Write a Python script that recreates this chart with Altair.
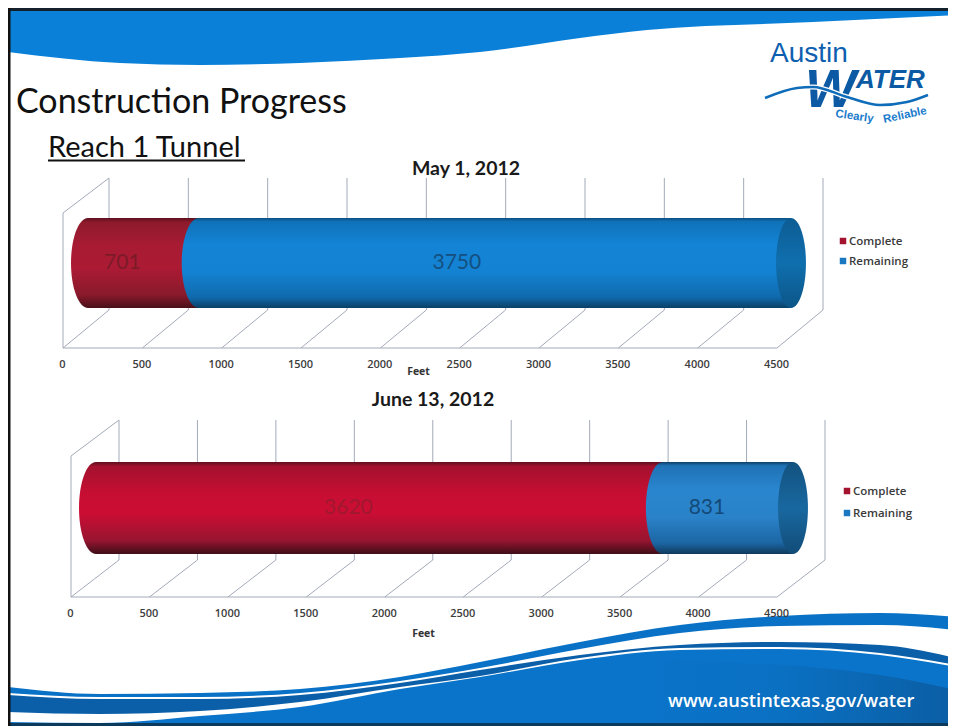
import altair as alt
import pandas as pd

# ---- chart values
periods = ["May 1, 2012", "June 13, 2012"]
series = ["Complete", "Remaining"]
complete = [701, 3620]
remaining = [3750, 831]
ticks = [0, 500, 1000, 1500, 2000, 2500, 3000, 3500, 4000, 4500]

# ---- slide artwork outlines (page pixels)
band_top_x = [8, 120, 200, 300, 400, 480, 580, 647, 813, 956]
band_top_y = [52, 63, 65, 63, 58, 52, 38, 30, 22, 15]
wave_x = [8, 100, 200, 300, 400, 480, 580, 680, 780, 880, 956]
wave1 = [687, 694, 693, 689, 677, 662, 642, 625, 616, 613, 617]
wave2 = [693, 697, 697, 693, 681, 668, 649, 633, 626, 625, 630]
wave3 = [695, 699, 699, 695, 683, 670, 655, 645, 642, 645, 658]
wave4 = [712, 714, 711, 702, 687, 676, 658, 648, 647, 653, 665]
wave5 = [722, 723, 716, 707, 689, 677, 660, 650, 649, 655, 667]
shade_x = [640, 720, 800, 880, 956]
shade_y = [655, 662, 666, 675, 690]
logo_x = [765, 797, 813, 847, 880, 907, 928]
logo_y = [98, 88, 87, 97, 105, 102, 95]

XMAX = 948
W, H = XMAX - 8, 718
BLUE = "#0a72c6"


def px(v):
    return v - 8


def feet(p0, p4500):
    s = (p4500 - p0) / 4500
    return alt.Scale(domain=[(8 - p0) / s, (XMAX - p0) / s], range=[0, W], nice=False, zero=False)


XPX = alt.Scale(domain=[8, XMAX], range=[0, W], nice=False, zero=False)
YPX = alt.Scale(domain=[8, 726], range=[0, H], nice=False, zero=False)
YROW = alt.Scale(type="point", domain=periods, range=[255, 500], padding=0)


def grad(stops, horizontal=False):
    return {
        "gradient": "linear", "x1": 0, "y1": 0, "x2": 1 if horizontal else 0, "y2": 0 if horizontal else 1,
        "stops": [{"offset": o, "color": c} for o, c in stops],
    }


def ellipse(r):
    k = 0.5523
    a, b = r * k, r
    return (f"M0,-1 C{a},-1 {b},{-k} {b},0 C{b},{k} {a},1 0,1 "
            f"C{-a},1 {-b},{k} {-b},0 C{-b},{-k} {-a},-1 0,-1 Z")


def text(s, x, y, size, color="#111", font="Lato", weight="normal", align="left", style="normal", angle=0):
    return alt.Chart().mark_text(
        text=s, font=font, fontSize=size, color=color, fontWeight=weight, align=align,
        baseline="alphabetic", fontStyle=style, angle=angle,
    ).encode(x=alt.value(px(x)), y=alt.value(px(y)))


def hrule(x0, x1, y, color, w):
    return alt.Chart().mark_rule(color=color, strokeWidth=w).encode(
        x=alt.value(px(x0)), x2=alt.value(px(x1)), y=alt.value(px(y)))


def vrule(x, y0, y1, color, w):
    return alt.Chart().mark_rule(color=color, strokeWidth=w).encode(
        x=alt.value(px(x)), y=alt.value(px(y0)), y2=alt.value(px(y1)))


def area(xs, ys, color, base=726):
    d = pd.DataFrame({"x": xs, "y": ys, "b": [base] * len(xs)})
    return alt.Chart(d).mark_area(color=color, interpolate="monotone", opacity=1).encode(
        x=alt.X("x:Q", scale=XPX, axis=None),
        y=alt.Y("y:Q", scale=YPX, axis=None),
        y2="b:Q",
    )


def line(xs, ys, color, w):
    return alt.Chart(pd.DataFrame({"x": xs, "y": ys})).mark_line(
        color=color, strokeWidth=w, interpolate="monotone").encode(
        x=alt.X("x:Q", scale=XPX, axis=None), y=alt.Y("y:Q", scale=YPX, axis=None))


def panel(i, front, floor_y, back_dx, back_floor_y, top_y, wall_y, bar, bar_h, caps, axis_y, feet_xy,
          legend, labels, title_xy):
    p = periods[i]
    xs_front = feet(*front)
    xs_bar = feet(*bar)
    per_px = 4500 / (front[1] - front[0])
    G = "#a3aab8"
    out = []

    tick_df = pd.DataFrame({"t": ticks, "b": [t + back_dx * per_px for t in ticks]})
    # floor diagonals, back wall verticals
    out.append(alt.Chart(tick_df).mark_rule(color=G, strokeWidth=1).encode(
        x=alt.X("t:Q", scale=xs_front, axis=None), x2="b:Q",
        y=alt.value(px(floor_y)), y2=alt.value(px(back_floor_y))))
    out.append(alt.Chart(tick_df).mark_rule(color=G, strokeWidth=1).encode(
        x=alt.X("b:Q", scale=xs_front, axis=None),
        y=alt.value(px(back_floor_y)), y2=alt.value(px(top_y))))
    # front floor line with the real axis labels and title
    out.append(alt.Chart(tick_df).mark_rule(opacity=0).encode(
        x=alt.X("t:Q", scale=xs_front, axis=alt.Axis(
            orient="bottom", offset=px(axis_y) - H, values=ticks, domain=False, ticks=False, grid=False,
            labelFont="Open Sans", labelFontSize=11, labelFontWeight=600, labelColor="#3c3c3c",
            labelPadding=10, labelFlush=False, labelOverlap=False, format="d", labelOffset=-1,
            title="Feet", titleFont="Open Sans", titleFontSize=10.5, titleFontWeight="bold", titleColor="#333",
            titleX=px(feet_xy[0]), titleY=feet_xy[1] - axis_y, titleAlign="center", titleBaseline="middle",
            zindex=1,
        ))))
    out.append(hrule(front[0], front[1], floor_y, G, 1))
    out.append(vrule(front[0], floor_y, wall_y, G, 1))
    wall = pd.DataFrame({"t": [0], "b": [back_dx * per_px]})
    out.append(alt.Chart(wall).mark_rule(color=G, strokeWidth=1).encode(
        x=alt.X("t:Q", scale=xs_front, axis=None), x2="b:Q",
        y=alt.value(px(wall_y)), y2=alt.value(px(top_y))))

    red, blue, cap = caps
    rows = pd.DataFrame({
        "period": [p, p],
        "series": series,
        "start": [0, complete[i]],
        "end": [complete[i], complete[i] + remaining[i]],
    })
    Y = alt.Y("period:N", scale=YROW, axis=None)
    X = alt.X("start:Q", scale=xs_bar, axis=None)
    rx = 17 / (bar_h / 2)
    big = bar_h ** 2
    r0 = rows[rows.series == "Complete"]
    r1 = rows[rows.series == "Remaining"]
    out.append(alt.Chart(r0).mark_point(shape=ellipse(rx), filled=True, color=grad(red), size=big, opacity=1, strokeWidth=0).encode(x=X, y=Y))
    out.append(alt.Chart(r0).mark_bar(color=grad(red), size=bar_h, orient="horizontal").encode(x=X, x2="end:Q", y=Y))
    out.append(alt.Chart(r1).mark_bar(color=grad(blue), size=bar_h, orient="horizontal").encode(x=X, x2="end:Q", y=Y))
    out.append(alt.Chart(r1).mark_point(shape=ellipse(rx), filled=True, color=grad(blue), size=big, opacity=1, strokeWidth=0).encode(x=X, y=Y))
    out.append(alt.Chart(r1).mark_point(shape=ellipse(rx * 0.88), filled=True, color=grad(cap), size=big, opacity=1, strokeWidth=0).encode(
        x=alt.X("end:Q", scale=xs_bar, axis=None), y=Y))

    # value labels
    rows["value"] = [complete[i], remaining[i]]
    for j, (dx, col) in enumerate(labels):
        row = rows.iloc[[j]].copy()
        row["mid"] = (row["start"] + row["end"]) / 2
        out.append(alt.Chart(row).mark_text(font="Lato", fontSize=21, color=col, dx=dx, baseline="middle", align="center").encode(
            x=alt.X("mid:Q", scale=xs_bar, axis=None), y=Y, text="value:Q"))

    # legend
    lx, ly0, ly1 = legend
    for (name, col, ly) in zip(series, ["#a3132f", "#1a78c2"], [ly0, ly1]):
        out.append(alt.Chart().mark_square(size=42, color=col, opacity=1, filled=True).encode(
            x=alt.value(px(lx)), y=alt.value(px(ly))))
        out.append(text(name, lx + 6, ly + 4, 11.5, "#3a3a3a", "Open Sans", 600))

    out.append(text(p, title_xy[0], title_xy[1], 19.5, "#1a1a1a", "Lato", "bold", "center"))
    return out


RED_A = [(0, "#5e1020"), (0.05, "#8e1a2c"), (0.3, "#a81b33"), (0.55, "#ac1a34"), (0.85, "#8a1a2c"), (1, "#4a1018")]
BLUE_A = [(0, "#0c4f80"), (0.04, "#0f72b8"), (0.3, "#1484d6"), (0.6, "#1482d2"), (0.88, "#0f6aac"), (1, "#0b4066")]
CAP_A = [(0, "#0d5c94"), (0.5, "#0f6fae"), (1, "#0c5688")]
RED_B = [(0, "#5e1020"), (0.05, "#a4112e"), (0.35, "#c70e32"), (0.55, "#cc0d34"), (0.85, "#981530"), (1, "#3e0e18")]
BLUE_B = [(0, "#0f3f66"), (0.04, "#1f72b4"), (0.3, "#2a86cf"), (0.6, "#2a82c8"), (0.88, "#1c66a4"), (1, "#0f3a5c")]
CAP_B = [(0, "#13527f"), (0.5, "#1868a0"), (1, "#124c78")]

layers = []
# slide artwork
layers.append(area(band_top_x, band_top_y, "#0a80d8", base=8))
layers.append(area(wave_x, wave1, BLUE))
layers.append(area(wave_x, wave2, "#ffffff"))
layers.append(area(wave_x, wave3, "#0b5fa8"))
layers.append(area(wave_x, wave4, "#ffffff"))
layers.append(area(wave_x, wave5, "#0a74ca"))
layers.append(area(shade_x, shade_y, grad([(0, "#0a74ca"), (0.45, "#0a70c2"), (1, "#0b5ea4")], horizontal=True)))
layers.append(hrule(8, XMAX, 9.5, "#14202c", 3))
layers.append(hrule(8, XMAX, 724.5, "#0c3a5c", 3))
layers.append(vrule(9, 8, 726, "#111111", 3))

layers.append(text("Construction Progress", 16, 113, 34))
layers.append(text("Reach 1 Tunnel", 48, 157, 29))
layers.append(hrule(48, 245, 160.5, "#111", 2))

# logo
layers.append(text("Austin", 770, 62, 28, "#0e5fb0", "Liberation Sans"))
layers.append(text("W", 805, 107, 54, "#0d5aa4", "Liberation Sans", "bold", style="italic"))
layers.append(text("ATER", 856, 88, 26, "#0d5aa4", "Liberation Sans", "bold", style="italic"))
layers.append(line(logo_x, logo_y, "#ffffff", 5))
layers.append(line(logo_x, logo_y, "#0f6cb8", 2.5))
layers.append(text("Clearly", 835, 117, 11.5, "#1a7ccc", "Liberation Sans", "bold", angle=8))
layers.append(text("Reliable", 884, 123, 11.5, "#1a7ccc", "Liberation Sans", "bold", angle=348))

layers.append(text("www.austintexas.gov/water", 668, 707, 18.3, "#ffffff", "Open Sans", 600))

layers += panel(0, (63, 777), 348, 46, 310, 178, 213, (88, 88 + 4500 * 703 / 4451), 90,
                (RED_A, BLUE_A, CAP_A), 348, (418, 371), (843, 241, 261),
                [(-21, "#7c1a28"), (-38, "#134f80")], (466, 175))
layers += panel(1, (71, 777), 597, 48, 560, 420, 456, (96, 96 + 4500 * 697 / 4451), 92,
                (RED_B, BLUE_B, CAP_B), 597, (423, 633), (847, 491, 513),
                [(-31, "#a0182f"), (-21, "#134a78")], (433, 406))

chart = alt.layer(*layers).resolve_scale(x="independent", y="independent").properties(
    width=W, height=H, padding=0, background="#ffffff",
    autosize=alt.AutoSizeParams(type="none"),
).configure_view(stroke=None)

chart.save("out.html", embed_options={"renderer": "svg", "actions": False})
